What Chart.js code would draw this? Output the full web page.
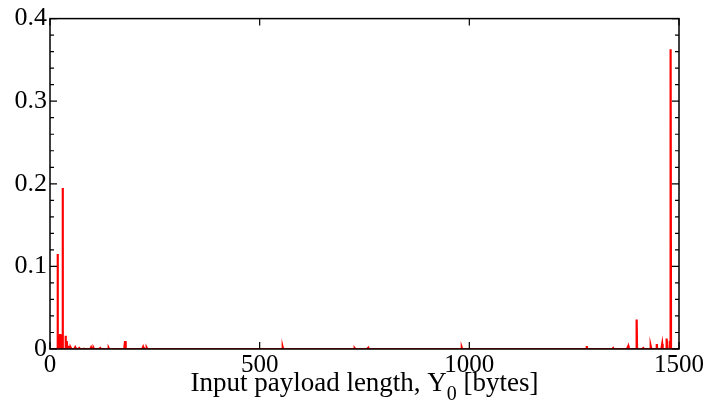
<!DOCTYPE html>
<html lang="en">
<head>
    <meta charset="UTF-8">
    <title>Payload Length Distribution</title>
    <style>
        * { margin: 0; padding: 0; box-sizing: border-box; }
        body { background: #ffffff; }
        .chart-container { width: 708px; height: 417px; }
    </style>
</head>
<body>
    <div class="chart-container">
        <canvas id="payloadChart" width="708" height="417"></canvas>
    </div>

    <script src="https://cdn.jsdelivr.net/npm/chart.js"></script>
    <script>
        // Payload lengths (bytes) with a non-zero share, and their shares
        const payloadLengths = [18, 24, 27, 30, 37, 40, 44, 50, 60, 70, 80, 98, 104, 120, 140,
            179, 222, 231, 555, 727, 759, 982, 1280, 1343, 1379, 1399, 1415, 1433,
            1447, 1460, 1471, 1478, 1480];
        const payloadShares = [0.115, 0.018, 0.017, 0.195, 0.016, 0.0095, 0.004, 0.0015, 0.002, 0.001, 0.0015, 0.002, 0.001, 0.001, 0.001,
            0.0095, 0.0024, 0.0015, 0.002, 0.001, 0.0015, 0.0015, 0.0035, 0.001, 0.0035, 0.0356, 0.001, 0.0035,
            0.006, 0.006, 0.0127, 0.01, 0.363];
        const maxLength = 1500;
        const xTicks = [0, 500, 1000, 1500];
        const yTicks = [0, 0.1, 0.2, 0.3, 0.4];

        // One point per byte length, zero where nothing was observed
        const shareByLength = new Map(payloadLengths.map((len, i) => [len, payloadShares[i]]));
        const points = [];
        for (let len = 0; len <= maxLength; len++) {
            points.push({ x: len, y: shareByLength.get(len) || 0 });
        }

        const serif = "'Liberation Serif', 'DejaVu Serif', serif";

        // Frame, inward ticks and the axis title with a subscript
        const framePlugin = {
            id: 'frame',
            afterDraw(chart) {
                const { ctx, chartArea: a, scales } = chart;
                const xs = scales.x, ys = scales.y;
                ctx.save();
                ctx.strokeStyle = '#000';
                ctx.lineWidth = 1.5;
                ctx.strokeRect(a.left, a.top, a.right - a.left, a.bottom - a.top);

                ctx.lineWidth = 1.2;
                ctx.beginPath();
                for (let i = 0; i <= 20; i++) {
                    const y = ys.getPixelForValue(i * 0.02);
                    const len = i % 5 === 0 ? 7 : 4;
                    ctx.moveTo(a.left, y); ctx.lineTo(a.left + len, y);
                    ctx.moveTo(a.right, y); ctx.lineTo(a.right - len, y);
                }
                xTicks.forEach(v => {
                    const x = xs.getPixelForValue(v);
                    ctx.moveTo(x, a.bottom); ctx.lineTo(x, a.bottom - 7);
                    ctx.moveTo(x, a.top); ctx.lineTo(x, a.top + 7);
                });
                ctx.stroke();

                // x-axis title: "Input payload length, Y0 [bytes]"
                const main = 'Input payload length, Y';
                const sub = '0';
                const tail = ' [bytes]';
                ctx.fillStyle = '#000';
                ctx.textBaseline = 'alphabetic';
                ctx.font = '27px ' + serif;
                const wMain = ctx.measureText(main).width;
                const wTail = ctx.measureText(tail).width;
                ctx.font = '20px ' + serif;
                const wSub = ctx.measureText(sub).width;
                const total = wMain + wSub + wTail;
                let x = (a.left + a.right) / 2 - total / 2;
                const base = 391;
                ctx.font = '27px ' + serif;
                ctx.fillText(main, x, base);
                x += wMain;
                ctx.font = '20px ' + serif;
                ctx.fillText(sub, x, base + 9);
                x += wSub;
                ctx.font = '27px ' + serif;
                ctx.fillText(tail, x, base);
                ctx.restore();
            }
        };

        const ctx = document.getElementById('payloadChart').getContext('2d');
        new Chart(ctx, {
            type: 'line',
            data: {
                datasets: [{
                    data: points,
                    borderColor: '#ff0000',
                    borderWidth: 2.2,
                    pointRadius: 0,
                    tension: 0,
                    fill: false
                }]
            },
            options: {
                responsive: false,
                animation: false,
                layout: { padding: { top: 12, right: 29, left: 0, bottom: 0 } },
                plugins: {
                    legend: { display: false },
                    tooltip: { enabled: false }
                },
                scales: {
                    x: {
                        type: 'linear',
                        min: 0,
                        max: maxLength,
                        afterBuildTicks: s => { s.ticks = xTicks.map(v => ({ value: v })); },
                        afterFit: s => { s.height = 68; },
                        grid: { display: false, drawTicks: false },
                        border: { display: false },
                        ticks: {
                            padding: 1,
                            maxRotation: 0,
                            color: '#000',
                            font: { family: serif, size: 25 },
                            callback: v => String(v)
                        }
                    },
                    y: {
                        min: 0,
                        max: 0.4,
                        afterBuildTicks: s => { s.ticks = yTicks.map(v => ({ value: v })); },
                        afterFit: s => { s.width = 50; },
                        grid: { display: false, drawTicks: false },
                        border: { display: false },
                        ticks: {
                            padding: 3,
                            color: '#000',
                            font: { family: serif, size: 26 },
                            callback: v => String(Math.round(v * 10) / 10)
                        }
                    }
                }
            },
            plugins: [framePlugin]
        });
    </script>
</body>
</html>
